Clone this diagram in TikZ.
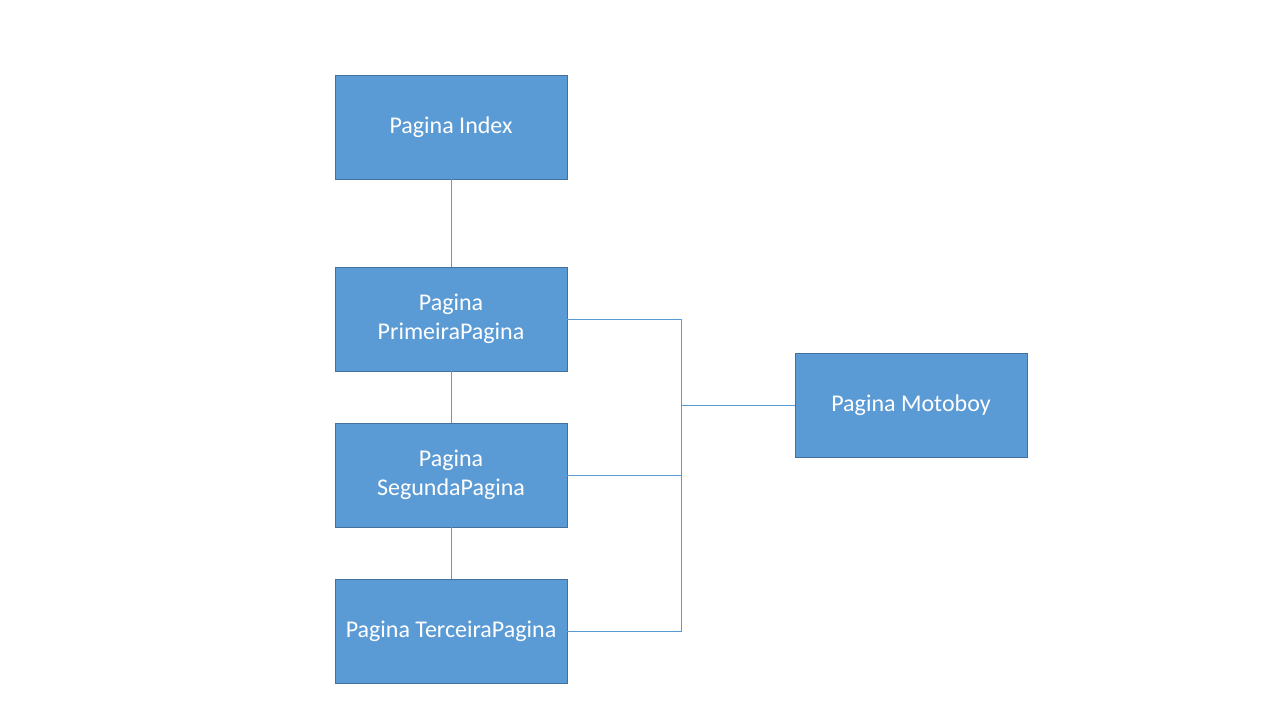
\documentclass[tikz,border=0pt]{standalone}
\usepackage{fontspec}
\setmainfont{Carlito}
\definecolor{boxfill}{RGB}{91, 155, 213}
\definecolor{boxline}{RGB}{65, 113, 156}
\definecolor{wire}{RGB}{91, 155, 213}
\usetikzlibrary{positioning}

\begin{document}
\begin{tikzpicture}[x=1pt, y=-1pt,
    pagebox/.style={draw=boxline, fill=boxfill, text=white, line width=0.8pt,
        minimum width=232pt, minimum height=104pt, align=center,
        font=\fontsize{24}{29}\selectfont},
    wirelink/.style={draw=wire, line width=0.8pt}]
    \useasboundingbox (0,0) rectangle (1280,720);
    % pages
    \node[pagebox] (index) at (451,127) {Pagina Index};
    \node[pagebox] (primeira) at (451,319) {Pagina\\PrimeiraPagina};
    \node[pagebox] (segunda) at (451,475) {Pagina\\SegundaPagina};
    \node[pagebox] (terceira) at (451,631) {Pagina TerceiraPagina};
    \node[pagebox] (motoboy) at (911,405) {Pagina Motoboy};
    % links
    \coordinate (bus) at (681,405);
    \draw[wirelink] (index) -- (primeira);
    \draw[wirelink] (primeira) -- (segunda);
    \draw[wirelink] (segunda) -- (terceira);
    \draw[wirelink] (primeira.east) -| (bus);
    \draw[wirelink] (terceira.east) -| (bus);
    \draw[wirelink] (segunda.east) -- (segunda.east -| bus);
    \draw[wirelink] (bus) -- (motoboy.west);
\end{tikzpicture}
\end{document}
